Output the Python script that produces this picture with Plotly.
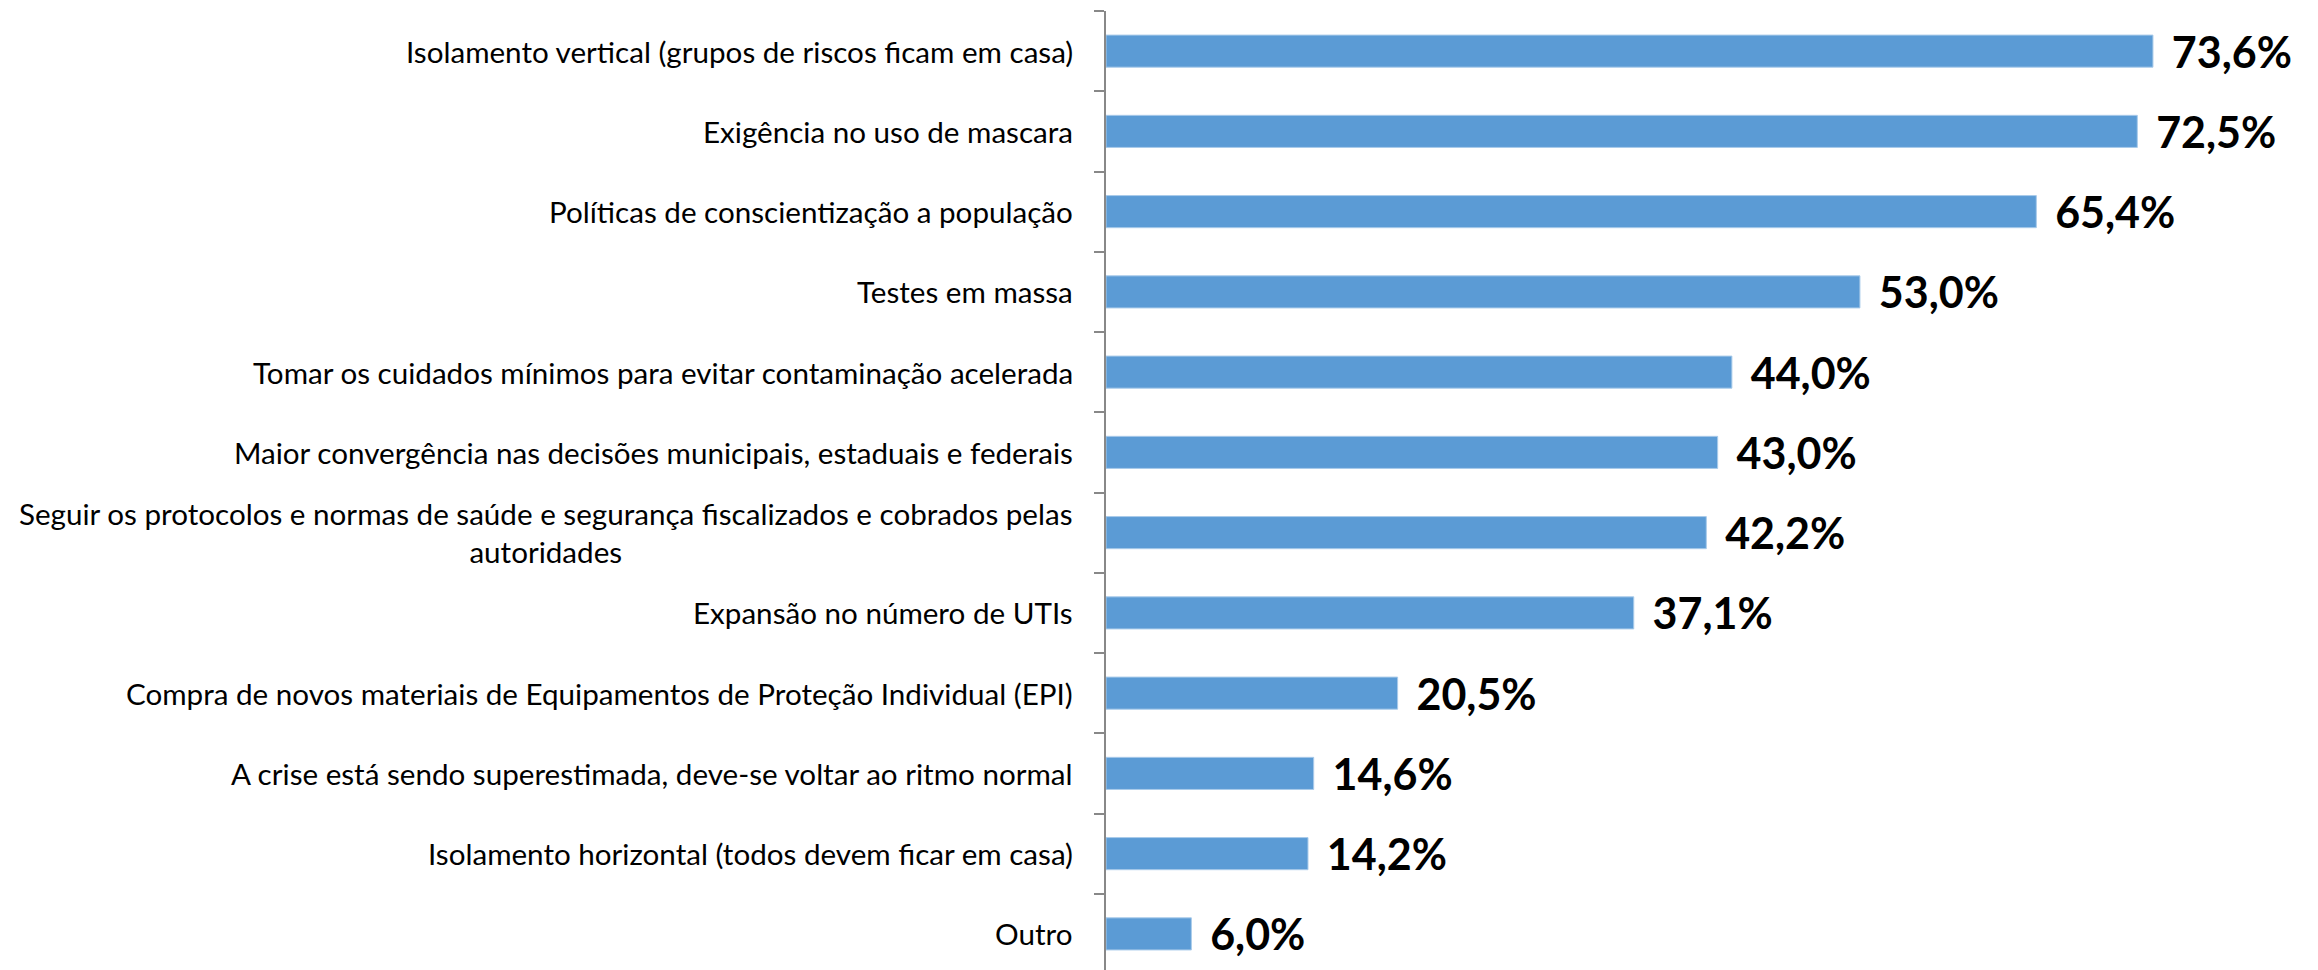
import plotly.graph_objects as go

categories = [
    "Isolamento vertical (grupos de riscos ficam em casa)",
    "Exigência no uso de mascara",
    "Políticas de conscientização a população",
    "Testes em massa",
    "Tomar os cuidados mínimos para evitar contaminação acelerada",
    "Maior convergência nas decisões municipais, estaduais e federais",
    "Seguir os protocolos e normas de saúde e segurança fiscalizados e cobrados pelas<br>autoridades",
    "Expansão no número de UTIs",
    "Compra de novos materiais de Equipamentos de Proteção Individual (EPI)",
    "A crise está sendo superestimada, deve-se voltar ao ritmo normal",
    "Isolamento horizontal (todos devem ficar em casa)",
    "Outro",
]
values = [73.6, 72.5, 65.4, 53.0, 44.0, 43.0, 42.2, 37.1, 20.5, 14.6, 14.2, 6.0]

# bottom-to-top order for plotting
cats_plot = categories[::-1]
vals_plot = values[::-1]
labels_plot = ["\u00a0\u2009" + f"{v:.1f}".replace(".", ",") + "%" for v in vals_plot]

LABEL_FONT = "Lato, 'Open Sans', sans-serif"

fig = go.Figure(
    go.Bar(
        y=cats_plot,
        x=vals_plot,
        orientation="h",
        marker=dict(color="#5B9BD5", line=dict(color="#A9CBEA", width=1)),
        text=labels_plot,
        textposition="outside",
        constraintext="none",
        textfont=dict(family=LABEL_FONT, size=43, color="#000000", weight="bold"),
        cliponaxis=False,
        hoverinfo="skip",
    )
)

annotations = [
    dict(
        x=0, xref="paper", y=c, yref="y",
        text=c, showarrow=False, xanchor="right", yanchor="middle",
        align="center", xshift=-31,
        font=dict(family=LABEL_FONT, size=29.6, color="#000000"),
    )
    for c in cats_plot
]

fig.update_layout(
    width=2310, height=962,
    margin=dict(l=1098, r=74, t=3, b=0),
    paper_bgcolor="white", plot_bgcolor="white",
    bargap=0.6,
    showlegend=False,
    annotations=annotations,
    xaxis=dict(range=[0, 80], visible=False, fixedrange=True),
    yaxis=dict(
        type="category",
        categoryorder="array", categoryarray=cats_plot,
        range=[-0.45, 11.5],
        showline=True, linecolor="#888888", linewidth=1.5,
        ticks="outside", ticklen=10, tickcolor="#888888", tickwidth=1.5,
        tickson="boundaries",
        showticklabels=False,
        showgrid=False, zeroline=False,
    ),
)

fig.write_html("out.html")
